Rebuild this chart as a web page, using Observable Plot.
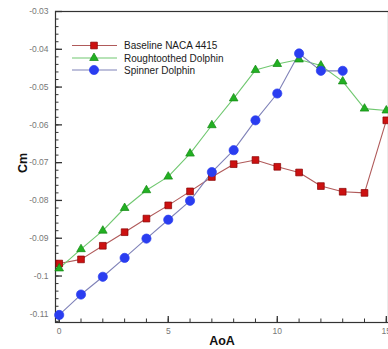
<!DOCTYPE html>
<html><head><meta charset="utf-8">
<script src="https://cdn.jsdelivr.net/npm/d3@7"></script>
<script src="https://cdn.jsdelivr.net/npm/@observablehq/plot@0.6"></script>
<style>
body{margin:0;overflow:hidden;background:#fff;font-family:"Liberation Sans",Arial,sans-serif}
#wrap{position:relative;width:388px;height:349px;overflow:hidden}
#legend{position:absolute;left:0;top:0}
</style></head><body><div id="wrap"></div>
<script>
const seriesNames = ["Baseline NACA 4415", "Roughtoothed Dolphin", "Spinner Dolphin"];
const aoa = [0,1,2,3,4,5,6,7,8,9,10,11,12,13,14,15];
const baseline = [-0.0967,-0.0956,-0.0920,-0.0884,-0.0848,-0.0813,-0.0776,-0.0738,-0.0704,-0.0693,-0.0711,-0.0726,-0.0762,-0.0777,-0.0780,-0.0588];
const roughtoothed = [-0.0980,-0.0929,-0.0880,-0.0820,-0.0773,-0.0737,-0.0676,-0.0601,-0.0530,-0.0455,-0.0439,-0.0427,-0.0443,-0.0485,-0.0557,-0.0562];
const spinner = [-0.1103,-0.1049,-0.1002,-0.0952,-0.0901,-0.0851,-0.0801,-0.0725,-0.0667,-0.0588,-0.0517,-0.0411,-0.0457,-0.0457];
const yMajor = [-0.11,-0.10,-0.09,-0.08,-0.07,-0.06,-0.05,-0.04,-0.03];
const yMinor = d3.range(-112,-29,2).map(v => v/1000);
const xMajor = [0,5,10,15];
const xMinor = d3.range(0,16,1);

const lineColors = ["#b05a5a","#70c870","#7f82b8"];
const markFill = ["#cc1111","#22b022","#2a3df0"];
const markStroke = ["#880000","#118811","#2a3df0"];
const symbols = ["square","triangle","circle"];
const radii = [3.8,3.2,4.6];

const values = [baseline, roughtoothed, spinner];
const rows = [];
values.forEach((arr,i) => arr.forEach((v,j) => rows.push({series: seriesNames[i], idx: i, aoa: aoa[j], cm: v})));

const W = 388, H = 349, mL = 55, mR = 0, mT = 11, mB = 27;
const plotW = W - mL - mR, plotH = H - mT - mB;
const fmt = d => String(+d.toFixed(2));

const marks = [
  Plot.frame({stroke:"#333", strokeWidth:1.2}),
  Plot.tickY(yMinor, {y: d=>d, insetRight: plotW - 3.5, stroke:"#333"}),
  Plot.tickY(yMajor, {y: d=>d, insetRight: plotW - 7, stroke:"#333", strokeWidth:1.3}),
  Plot.tickX(xMinor, {x: d=>d, insetTop: plotH - 3.5, stroke:"#333"}),
  Plot.tickX(xMajor, {x: d=>d, insetTop: plotH - 6, stroke:"#333", strokeWidth:1.3}),
  Plot.axisY({ticks: yMajor, tickSize: 0, tickPadding: 7, tickFormat: fmt, color:"#777", label: null, fontSize: 8.5}),
  Plot.axisX({ticks: xMajor, tickSize: 0, tickPadding: 5, tickFormat: d => String(d), color:"#777", label: null, fontSize: 8.5}),
  Plot.text(["AoA"], {frameAnchor:"bottom", dy: 22, fontWeight:"bold", fontSize: 12.5, fill:"#111"}),
  Plot.text(["Cm"], {frameAnchor:"left", dx: -33, dy: 6, rotate: -90, fontWeight:"bold", fontSize: 12.5, fill:"#111"})
];
seriesNames.forEach((s,i) => {
  const d = rows.filter(r => r.idx === i);
  marks.push(Plot.line(d, {x:"aoa", y:"cm", stroke: lineColors[i], strokeWidth: 1.1}));
});
seriesNames.forEach((s,i) => {
  const d = rows.filter(r => r.idx === i);
  marks.push(Plot.dot(d, {x:"aoa", y:"cm", symbol: symbols[i], r: radii[i], fill: markFill[i], stroke: markStroke[i], strokeWidth: 0.7}));
});

const chart = Plot.plot({
  width: W, height: H,
  marginLeft: mL, marginRight: mR, marginTop: mT, marginBottom: mB,
  style: {fontFamily: '"Liberation Sans", Arial, sans-serif', fontSize: "8.5px", background: "#fff", overflow: "visible"},
  x: {domain: [-0.17, 15.1], axis: null},
  y: {domain: [-0.1123, -0.03], axis: null},
  marks
});
const wrap = document.getElementById("wrap");
wrap.appendChild(chart);

// legend
const lg = d3.select(wrap).append("svg").attr("id","legend").attr("width",388).attr("height",100);
const rowY = [45.5, 58, 70];
seriesNames.forEach((s,i) => {
  const g = lg.append("g").attr("transform", `translate(0,${rowY[i]})`);
  g.append("line").attr("x1",72).attr("x2",117).attr("y1",0).attr("y2",0).attr("stroke",lineColors[i]).attr("stroke-width",1.1);
  const sym = d3.symbol().type(symbols[i]==="square"?d3.symbolSquare:symbols[i]==="triangle"?d3.symbolTriangle:d3.symbolCircle).size(Math.PI*radii[i]*radii[i]);
  g.append("path").attr("d", sym()).attr("transform","translate(94,0)").attr("fill",markFill[i]).attr("stroke",markStroke[i]).attr("stroke-width",0.7);
  g.append("text").attr("x",124).attr("y",0).attr("dy","0.35em").attr("font-size","10px").attr("fill","#1a1a1a").attr("font-family",'"Liberation Sans", Arial, sans-serif').text(s);
});
</script></body></html>
